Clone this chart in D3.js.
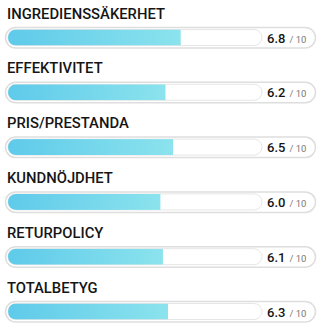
<!DOCTYPE html>
<html>
<head>
<meta charset="utf-8">
<script src="https://cdn.jsdelivr.net/npm/d3@7"></script>
<style>
  html, body { margin: 0; padding: 0; background: #fff; }
  svg { display: block; }
</style>
</head>
<body>
<div id="chart"></div>
<script>
// ratings, one row per category
const categories = ["INGREDIENSSÄKERHET", "EFFEKTIVITET", "PRIS/PRESTANDA", "KUNDNÖJDHET", "RETURPOLICY", "TOTALBETYG"];
const scores = [6.8, 6.2, 6.5, 6.0, 6.1, 6.3];
const maxScore = 10;

const width = 321, height = 330;
const rowH = 54.8;

const svg = d3.select("#chart").append("svg")
    .attr("width", width)
    .attr("height", height);

const defs = svg.append("defs");
const grad = defs.append("linearGradient")
    .attr("id", "fillGrad")
    .attr("x1", "0%").attr("x2", "100%").attr("y1", "0%").attr("y2", "0%");
grad.append("stop").attr("offset", "0%").attr("stop-color", "#5fcaea");
grad.append("stop").attr("offset", "100%").attr("stop-color", "#8be3ed");

const y = d3.scaleBand()
    .domain(categories)
    .range([0, rowH * categories.length]);

const trackX0 = 8, trackX1 = 262;
const x = d3.scaleLinear().domain([0, maxScore]).range([trackX0, trackX1]);

const rows = svg.selectAll("g.row")
    .data(categories.map((c, i) => ({name: c, value: scores[i]})))
    .join("g")
    .attr("class", "row")
    .attr("transform", d => `translate(0,${y(d.name)})`);

rows.append("text")
    .attr("x", 7)
    .attr("y", 18.5)
    .attr("font-family", "Roboto, 'Noto Sans', sans-serif")
    .attr("font-weight", 500)
    .attr("font-size", 14.8)
    .attr("fill", "#151515")
    .text(d => d.name);

// outer pill
rows.append("rect")
    .attr("x", 5.5).attr("y", 27.5)
    .attr("width", 310).attr("height", 20.5)
    .attr("rx", 10.25)
    .attr("fill", "#fff")
    .attr("stroke", "#dedede")
    .attr("stroke-width", 1.5);

// inner track
rows.append("rect")
    .attr("x", trackX0).attr("y", 29.5)
    .attr("width", trackX1 - trackX0).attr("height", 16)
    .attr("rx", 8)
    .attr("fill", "#fff")
    .attr("stroke", "#e6e6e6")
    .attr("stroke-width", 1);

// clip so fill has rounded left end and square right end
rows.append("clipPath")
    .attr("id", (d, i) => "clip" + i)
    .append("rect")
    .attr("x", trackX0).attr("y", 29.5)
    .attr("width", trackX1 - trackX0).attr("height", 16)
    .attr("rx", 8);

rows.append("rect")
    .attr("clip-path", (d, i) => `url(#clip${i})`)
    .attr("x", trackX0).attr("y", 29.5)
    .attr("width", d => x(d.value) - trackX0).attr("height", 16)
    .attr("fill", "url(#fillGrad)");

const val = rows.append("text")
    .attr("x", 267)
    .attr("y", 42.5)
    .attr("font-family", "Roboto, 'Noto Sans', sans-serif");
val.append("tspan")
    .attr("font-weight", 500)
    .attr("font-size", 13)
    .attr("fill", "#151515")
    .text(d => d.value.toFixed(1));
val.append("tspan")
    .attr("dx", 4)
    .attr("font-size", 9.5)
    .attr("fill", "#777")
    .text("/ 10");
</script>
</body>
</html>
